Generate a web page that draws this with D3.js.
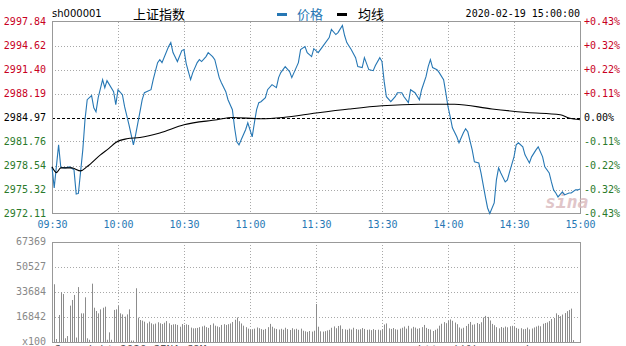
<!DOCTYPE html>
<html>
<head>
<meta charset="utf-8">
<script src="https://cdn.jsdelivr.net/npm/d3@7"></script>
<style>
  body { margin: 0; background: #fff; }
  svg { display: block; }
  text { font-family: "DejaVu Sans Mono", monospace; font-size: 10px; }
</style>
</head>
<body>
<div id="chart"></div>
<script>
// ---- data ----
const code = "sh000001";
const title = "上证指数";
const stamp = "2020-02-19 15:00:00";
const preClose = 2984.97;

const priceTicks = [2972.11, 2975.32, 2978.54, 2981.76, 2984.97, 2988.19, 2991.40, 2994.62, 2997.84];
const pctTicks = ["-0.43%", "-0.32%", "-0.22%", "-0.11%", "0.00%", "+0.11%", "+0.22%", "+0.32%", "+0.43%"];
const timeLabels = ["09:30", "10:00", "10:30", "11:00", "11:30", "13:30", "14:00", "14:30", "15:00"];
const volTicks = [0, 16842, 33684, 50527, 67369];

const priceTimes = ["09:30","09:31","09:33","09:34","09:36","09:38","09:40","09:41","09:42","09:44",
  "09:45","09:46","09:48","09:49","09:50","09:51","09:53","09:54","09:55","09:58",
  "09:59","10:00","10:02","10:03","10:05","10:07","10:08","10:10","10:11","10:12",
  "10:15","10:16","10:18","10:19","10:20","10:23","10:24","10:25","10:27","10:29",
  "10:30","10:31","10:33","10:34","10:36","10:37","10:38","10:40","10:41","10:43",
  "10:44","10:46","10:47","10:49","10:50","10:52","10:53","10:54","10:55","10:56",
  "10:58","10:59","11:00","11:01","11:02","11:03","11:04","11:05","11:07","11:08",
  "11:10","11:12","11:13","11:14","11:16","11:18","11:19","11:20","11:22","11:23",
  "11:25","11:26","11:28","11:29","13:01","13:03","13:06","13:07","13:09","13:10",
  "13:12","13:13","13:14","13:16","13:18","13:19","13:21","13:22","13:24","13:26",
  "13:27","13:29","13:30","13:31","13:32","13:34","13:36","13:37","13:39","13:40",
  "13:42","13:43","13:45","13:47","13:48","13:50","13:51","13:52","13:53","13:55",
  "13:56","13:58","13:59","14:00","14:01","14:02","14:04","14:05","14:07","14:08",
  "14:09","14:11","14:12","14:14","14:15","14:17","14:18","14:19","14:21","14:22",
  "14:23","14:24","14:26","14:27","14:28","14:30","14:31","14:32","14:34","14:35",
  "14:37","14:38","14:40","14:41","14:43","14:44","14:46","14:47","14:48","14:49",
  "14:50","14:52","14:53","14:55","14:56","14:58","14:59","15:00"];
const priceValues = [2978.36,2975.54,2981.31,2978.30,2978.22,2978.36,2977.95,2974.73,2974.80,2980.64,
  2984.67,2987.36,2987.90,2986.28,2985.75,2987.63,2990.05,2988.97,2989.91,2988.43,
  2986.69,2988.70,2988.03,2986.42,2984.00,2981.31,2982.66,2985.75,2987.36,2988.30,
  2988.70,2990.05,2992.33,2992.73,2992.33,2994.48,2995.02,2993.67,2992.47,2993.94,
  2994.08,2992.20,2990.05,2990.99,2992.33,2992.73,2992.47,2993.14,2993.67,2993.14,
  2992.73,2990.32,2989.64,2988.43,2987.36,2986.02,2983.60,2981.72,2981.31,2981.99,
  2983.33,2984.27,2983.33,2982.39,2984.27,2986.02,2986.96,2987.09,2987.63,2988.70,
  2989.38,2988.97,2990.32,2990.99,2991.79,2991.12,2990.32,2990.99,2992.33,2994.08,
  2994.48,2993.67,2993.14,2994.20,2993.67,2994.48,2995.69,2996.77,2996.09,2996.36,
  2997.30,2995.96,2995.02,2994.08,2993.00,2991.79,2991.66,2993.00,2991.39,2991.25,
  2991.93,2993.00,2992.47,2989.78,2987.76,2987.09,2987.76,2988.30,2988.30,2987.76,
  2986.96,2988.70,2988.30,2987.36,2988.70,2990.45,2991.79,2992.73,2991.66,2991.39,
  2990.99,2990.05,2988.30,2986.42,2985.08,2983.60,2982.39,2981.58,2982.93,2983.46,
  2983.06,2980.64,2979.03,2978.89,2977.55,2974.33,2972.85,2972.11,2973.52,2976.61,
  2978.22,2977.55,2976.34,2976.61,2977.69,2979.70,2981.31,2981.58,2981.04,2979.97,
  2978.89,2979.70,2980.64,2981.04,2979.70,2978.36,2977.55,2976.34,2975.27,2974.86,
  2974.33,2975.00,2974.60,2974.86,2974.86,2975.27,2975.27,2975.40];

const avgTimes = ["09:30","09:32","09:34","09:39","09:43","09:46","09:52","09:56","09:59","10:04",
  "10:10","10:19","10:30","10:45","10:52","11:05","11:15","11:30","13:15","13:30",
  "13:47","14:03","14:20","14:36","14:51","14:55","15:00"];
const avgValues = [2978.36,2977.59,2978.22,2978.22,2977.82,2978.40,2979.97,2980.87,2981.62,2982.12,
  2982.29,2982.89,2984.00,2984.67,2984.98,2984.81,2984.98,2985.57,2986.11,2986.55,
  2986.76,2986.76,2986.11,2985.65,2985.34,2984.90,2984.67];

// volume per minute from 09:30 (x100)
const volumes = [67369,38900,2000,18200,33500,32300,2500,4000,24500,28300,
  31700,3000,37000,19300,19300,30100,2500,1500,39300,23100,
  20900,19300,22000,23100,23800,1500,6500,1500,21600,22000,
  24200,19300,18600,17100,18600,22000,1000,1000,36200,16400,
  14800,14400,13700,12600,13700,12600,11900,12400,13300,12600,
  12100,13000,14100,12600,11500,11900,12000,11500,10300,12100,
  11500,11900,11500,9700,9200,9300,9500,10000,10500,11000,
  10000,9500,11500,12500,11000,10500,10000,11500,12000,11500,
  12000,12500,13500,15000,16500,14000,12500,11000,10000,9000,
  8300,8600,9000,9800,9300,8700,8200,8800,10000,12200,
  10300,9200,8800,8400,8900,8300,9600,8700,8100,9300,
  8500,8900,8200,9000,7600,7200,6800,7400,7000,7600,
  25600,10300,7200,7000,7300,7800,8200,9600,10500,9300,
  10800,11200,8800,8500,8200,9000,8400,9600,8700,8300,
  8600,9400,8800,8200,8400,8000,8700,8100,8300,7900,
  8600,11800,12500,9200,8800,9400,8600,8300,9000,9600,
  10400,9000,10900,9100,10200,9700,8900,9300,10000,11500,
  9500,8800,8400,7400,8200,9000,11000,12300,13400,12700,
  14200,15200,14300,13100,12000,9800,9000,9600,10800,12200,
  13500,11600,11900,12800,12100,13300,16500,17600,16900,14500,
  12200,11300,10000,9200,10100,9600,10400,9900,10600,10900,
  10200,9500,8900,9300,8600,8800,9700,8500,9100,9800,
  10400,11000,10600,12300,12800,13200,14100,15500,16200,19300,
  18200,17400,18500,19500,20800,21600,22500,1300,0,0,0];

// ---- helpers ----
const toIdx = t => {
  const [h, m] = t.split(":").map(Number);
  const mins = h * 60 + m;
  return mins <= 690 ? mins - 570 : 120 + (mins - 780);
};
const red = "#c8001e", green = "#2a7a2a", blue = "#2677b4", grid = "#a8a8a8";

const W = 626, H = 346;
const left = 52, right = 580;
const svg = d3.select("#chart").append("svg").attr("width", W).attr("height", H);

const x = d3.scaleLinear().domain([0, 240]).range([left, right]);
const y = d3.scaleLinear().domain([2972.11, 2997.84]).range([213.5, 21.5]);
const yv = d3.scaleLinear().domain([0, 67369]).range([342, 242]);

const timeIdx = timeLabels.map((t, i) => i * 30);

// ---- price panel grid ----
const pg = svg.append("g");
pg.selectAll(".hg").data(priceTicks.slice(1, -1)).join("line")
  .attr("x1", left).attr("x2", right)
  .attr("y1", d => Math.round(y(d)) + 0.5).attr("y2", d => Math.round(y(d)) + 0.5)
  .attr("stroke", (d, i) => i === 3 ? "#000" : grid)
  .attr("stroke-dasharray", (d, i) => i === 3 ? "3,2" : "1,2");
pg.selectAll(".vg").data(timeIdx.slice(1, -1)).join("line")
  .attr("x1", d => Math.round(x(d)) + 0.5).attr("x2", d => Math.round(x(d)) + 0.5)
  .attr("y1", 22).attr("y2", 213)
  .attr("stroke", grid).attr("stroke-dasharray", "1,2");
pg.append("rect").attr("x", left + 0.5).attr("y", 21.5).attr("width", right - left).attr("height", 192)
  .attr("fill", "none").attr("stroke", "#999");

// watermark
svg.append("text").attr("x", 545).attr("y", 208)
  .attr("font-family", "Verdana, 'DejaVu Sans', sans-serif").attr("font-style", "italic")
  .attr("font-weight", "bold").style("font-size", "18px")
  .attr("fill", "#d9b8bc").attr("opacity", 0.8).text("sina");

// left axis (price)
const la = svg.append("g").attr("transform", `translate(${left},0)`)
  .call(d3.axisLeft(y).tickValues(priceTicks).tickSize(0).tickPadding(6).tickFormat(d3.format(".2f")));
la.select(".domain").remove();
la.selectAll("text").style("font-family", "'DejaVu Sans Mono', monospace").style("font-size", "10px")
  .attr("fill", d => d > preClose + 0.01 ? red : (d < preClose - 0.01 ? green : "#000"));

// right axis (percent)
const ra = svg.append("g").attr("transform", `translate(${right},0)`)
  .call(d3.axisRight(y).tickValues(priceTicks).tickSize(0).tickPadding(4)
    .tickFormat((d, i) => pctTicks[i]));
ra.select(".domain").remove();
ra.selectAll("text").style("font-family", "'DejaVu Sans Mono', monospace").style("font-size", "10px")
  .attr("fill", (d, i) => i > 4 ? red : (i < 4 ? green : "#000"));

// time axis
const ta = svg.append("g").attr("transform", "translate(0,213)")
  .call(d3.axisBottom(x).tickValues(timeIdx).tickSize(0).tickPadding(8)
    .tickFormat((d, i) => timeLabels[i]));
ta.select(".domain").remove();
ta.selectAll("text").style("font-family", "'DejaVu Sans Mono', monospace").style("font-size", "10px")
  .attr("fill", blue);

// ---- lines ----
const line = d3.line().x(d => x(d[0])).y(d => y(d[1]));
svg.append("path")
  .datum(priceTimes.map((t, i) => [toIdx(t), priceValues[i]]))
  .attr("fill", "none").attr("stroke", blue).attr("stroke-width", 1.1)
  .attr("d", line);
svg.append("path")
  .datum(avgTimes.map((t, i) => [toIdx(t), avgValues[i]]))
  .attr("fill", "none").attr("stroke", "#000").attr("stroke-width", 1.1)
  .attr("d", line.curve(d3.curveMonotoneX));

// ---- volume panel ----
const vg = svg.append("g");
vg.selectAll(".hg").data(volTicks.slice(1, -1)).join("line")
  .attr("x1", left).attr("x2", right)
  .attr("y1", d => Math.round(yv(d)) + 0.5).attr("y2", d => Math.round(yv(d)) + 0.5)
  .attr("stroke", grid).attr("stroke-dasharray", "1,2");
vg.selectAll(".vg").data(timeIdx.slice(1, -1)).join("line")
  .attr("x1", d => Math.round(x(d)) + 0.5).attr("x2", d => Math.round(x(d)) + 0.5)
  .attr("y1", 242).attr("y2", 342)
  .attr("stroke", grid).attr("stroke-dasharray", "1,2");

vg.selectAll(".bar").data(volumes).join("rect")
  .attr("x", (d, i) => Math.round(x(i)))
  .attr("width", 1)
  .attr("y", d => yv(d))
  .attr("height", d => 342 - yv(d))
  .attr("fill", "#8c8c8c");

vg.append("rect").attr("x", left + 0.5).attr("y", 242.5).attr("width", right - left).attr("height", 100)
  .attr("fill", "none").attr("stroke", "#999");

const va = svg.append("g").attr("transform", `translate(${left},-1)`)
  .call(d3.axisLeft(yv).tickValues(volTicks).tickSize(0).tickPadding(6)
    .tickFormat(d => d === 0 ? "x100" : d));
va.select(".domain").remove();
va.selectAll("text").style("font-family", "'DejaVu Sans Mono', monospace").style("font-size", "10px")
  .attr("fill", "#888");

// footer text, mostly below the picture's edge as in the original
svg.append("text").attr("x", 54).attr("y", 353).attr("fill", "#555").style("font-size", "11px")
  .text("Copyright 2020 SINA.COM");
svg.append("text").attr("x", 418).attr("y", 353).attr("fill", "#555").style("font-size", "11px")
  .text("http://finance.sina.com.cn");

// ---- header ----
svg.append("text").attr("x", 52).attr("y", 17).attr("fill", "#000")
  .style("font-family", "'DejaVu Sans', sans-serif").style("font-size", "10px").text(code);
svg.append("text").attr("x", 133).attr("y", 19).attr("fill", "#000")
  .style("font-family", "'Noto Sans CJK SC', sans-serif").style("font-size", "13px").text(title);

svg.append("rect").attr("x", 277).attr("y", 13).attr("width", 10).attr("height", 3).attr("fill", blue);
svg.append("text").attr("x", 297).attr("y", 19).attr("fill", blue)
  .style("font-family", "'Noto Sans CJK SC', sans-serif").style("font-size", "13px").text("价格");
svg.append("rect").attr("x", 337).attr("y", 13).attr("width", 10).attr("height", 3).attr("fill", "#000");
svg.append("text").attr("x", 358).attr("y", 19).attr("fill", "#000")
  .style("font-family", "'Noto Sans CJK SC', sans-serif").style("font-size", "13px").text("均线");

svg.append("text").attr("x", 580).attr("y", 17).attr("text-anchor", "end").attr("fill", "#000")
  .text(stamp);
</script>
</body>
</html>
